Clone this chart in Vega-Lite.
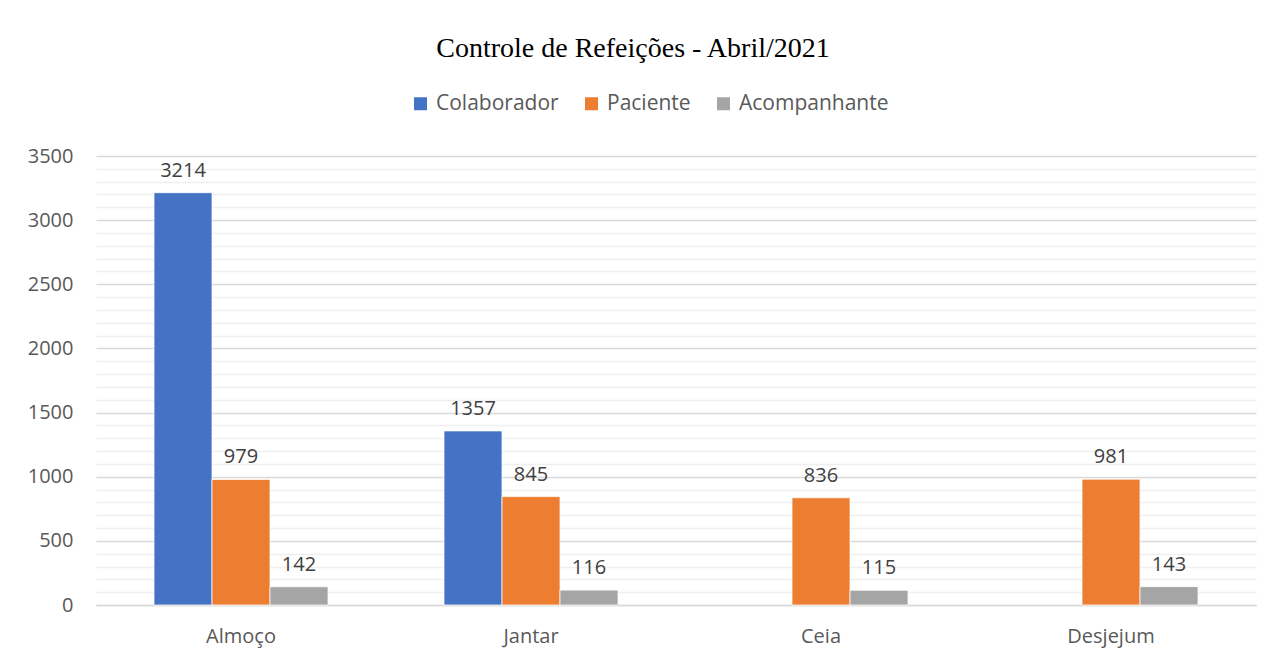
{
  "$schema": "https://vega.github.io/schema/vega-lite/v6.json",
  "width": 1160,
  "height": 449,
  "autosize": {"type": "none"},
  "padding": {"left": 96, "top": 156, "right": 19, "bottom": 57},
  "background": "white",
  "config": {"view": {"stroke": null}},
  "title": {
    "text": "Controle de Refeições - Abril/2021",
    "font": "Liberation Serif",
    "fontSize": 28,
    "fontWeight": "normal",
    "color": "#000000",
    "anchor": "middle",
    "baseline": "alphabetic",
    "dx": -43,
    "offset": 8
  },
  "data": {
    "values": [
      {"refeicao": "Almoço", "tipo": "Colaborador", "valor": 3214},
      {"refeicao": "Almoço", "tipo": "Paciente", "valor": 979},
      {"refeicao": "Almoço", "tipo": "Acompanhante", "valor": 142},
      {"refeicao": "Jantar", "tipo": "Colaborador", "valor": 1357},
      {"refeicao": "Jantar", "tipo": "Paciente", "valor": 845},
      {"refeicao": "Jantar", "tipo": "Acompanhante", "valor": 116},
      {"refeicao": "Ceia", "tipo": "Paciente", "valor": 836},
      {"refeicao": "Ceia", "tipo": "Acompanhante", "valor": 115},
      {"refeicao": "Desjejum", "tipo": "Paciente", "valor": 981},
      {"refeicao": "Desjejum", "tipo": "Acompanhante", "valor": 143}
    ]
  },
  "encoding": {
    "x": {
      "field": "refeicao",
      "type": "nominal",
      "sort": ["Almoço", "Jantar", "Ceia", "Desjejum"],
      "scale": {"paddingInner": 0.4, "paddingOuter": 0.2},
      "axis": {
        "title": null,
        "labelAngle": 0,
        "labelFont": "Open Sans",
        "labelFontSize": 20,
        "labelColor": "#595959",
        "labelPadding": 21,
        "ticks": false,
        "domain": true,
        "domainColor": "#d9d9d9",
        "domainWidth": 1.5,
        "grid": false
      }
    },
    "xOffset": {
      "field": "tipo",
      "type": "nominal",
      "scale": {"domain": ["Colaborador", "Paciente", "Acompanhante"], "paddingInner": 0, "paddingOuter": 0}
    },
    "y": {
      "field": "valor",
      "type": "quantitative",
      "scale": {"domain": [0, 3500], "nice": false},
      "axis": {
        "title": null,
        "values": [0, 100, 200, 300, 400, 500, 600, 700, 800, 900, 1000, 1100, 1200, 1300, 1400, 1500, 1600, 1700, 1800, 1900, 2000, 2100, 2200, 2300, 2400, 2500, 2600, 2700, 2800, 2900, 3000, 3100, 3200, 3300, 3400, 3500],
        "format": "d",
        "labelExpr": "datum.value % 500 === 0 ? datum.label : ''",
        "labelOverlap": false,
        "labelFont": "Open Sans",
        "labelFontSize": 20,
        "labelColor": "#595959",
        "labelPadding": 23,
        "ticks": false,
        "domain": false,
        "grid": true,
        "gridColor": {"condition": {"test": "datum.value % 500 === 0", "value": "#d9d9d9"}, "value": "#efefef"},
        "gridWidth": 1.5
      }
    }
  },
  "layer": [
    {
      "mark": {"type": "bar", "stroke": "white", "strokeWidth": 0.75},
      "encoding": {
        "color": {
          "field": "tipo",
          "type": "nominal",
          "scale": {"domain": ["Colaborador", "Paciente", "Acompanhante"], "range": ["#4472C4", "#ED7D31", "#A5A5A5"]},
          "legend": {
            "title": null,
            "orient": "none",
            "direction": "horizontal",
            "legendX": 314,
            "legendY": -63,
            "symbolType": "square",
            "symbolSize": 169,
            "symbolStrokeWidth": 0,
            "labelFont": "Open Sans",
            "labelFontSize": 21,
            "labelColor": "#595959",
            "labelOffset": 5,
            "columnPadding": 22
          }
        }
      }
    },
    {
      "mark": {"type": "text", "font": "Open Sans", "fontSize": 20, "color": "#404040", "baseline": "alphabetic", "dy": -16},
      "encoding": {
        "text": {"field": "valor", "type": "quantitative"}
      }
    }
  ]
}
